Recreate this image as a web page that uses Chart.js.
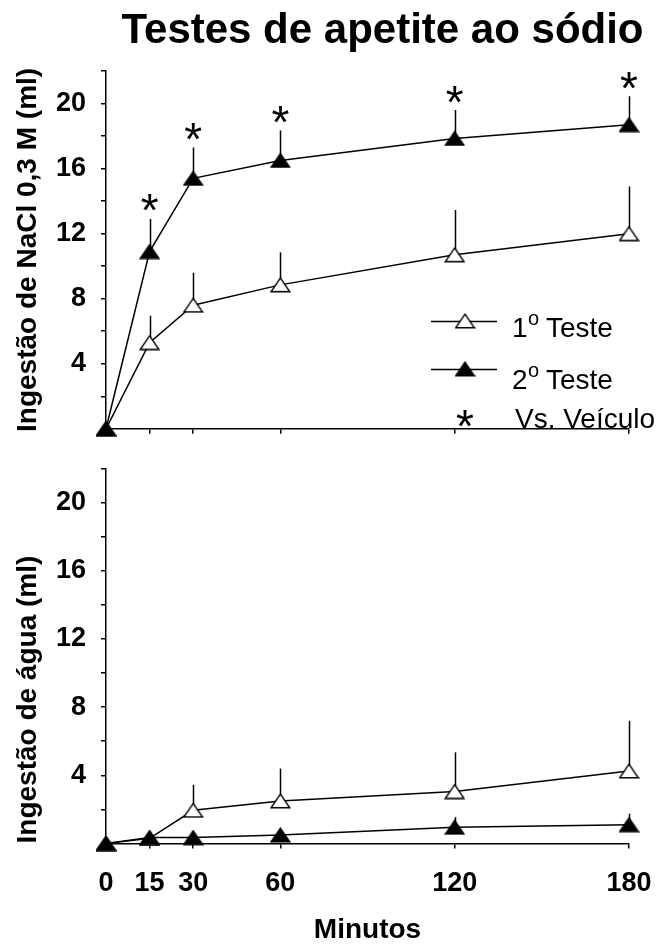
<!DOCTYPE html>
<html><head><meta charset="utf-8">
<script src="https://cdn.jsdelivr.net/npm/chart.js@4.4.0/dist/chart.umd.min.js"></script>
<style>
html,body{margin:0;padding:0;background:#fff;overflow:hidden;width:664px;height:944px}
canvas{position:absolute;left:0}
#c1{top:0}
#c2{top:430px}
</style></head><body>
<canvas id="c1" width="664" height="460" style="width:664px;height:460px"></canvas>
<canvas id="c2" width="664" height="514" style="width:664px;height:514px"></canvas>
<script>
// ---------- data ----------
const minutes = [0, 15, 30, 60, 120, 180];
const xTickLabels = ['0', '15', '30', '60', '120', '180'];
const yLabeledTicks = [4, 8, 12, 16, 20];
const titleText = 'Testes de apetite ao sódio';
const naclTitle = 'Ingestão de NaCl 0,3 M (ml)';
const aguaTitle = 'Ingestão de água (ml)';
const xTitle = 'Minutos';
const seriesNames = ['1', '2'];           // "1º Teste", "2º Teste"
const legendWord = 'Teste';
const signifLabel = 'Vs. Veículo';

const naclTeste1    = [0, 5.3, 7.6, 8.85, 10.7, 12.0];
const naclTeste1Err = [0, 1.65, 2.0, 2.0, 2.75, 2.9];
const naclTeste2    = [0, 10.9, 15.4, 16.5, 17.85, 18.7];
const naclTeste2Err = [0, 2.0, 1.9, 1.85, 1.75, 1.75];
const naclSignif    = [false, true, true, true, true, true];

const aguaTeste1    = [0, 0.3, 1.95, 2.5, 3.05, 4.25];
const aguaTeste1Err = [0, 0, 1.5, 1.9, 2.3, 2.95];
const aguaTeste2    = [0, 0.35, 0.35, 0.5, 0.95, 1.1];
const aguaTeste2Err = [0, 0, 0, 0.1, 0.6, 0.65];

// ---------- helpers ----------
const FONT = '"Liberation Sans", Arial, Helvetica, sans-serif';
Chart.defaults.font.family = FONT;
Chart.defaults.color = '#000';

function triImg(fill) {
  const c = document.createElement('canvas');
  c.width = 21; c.height = 16;
  const g = c.getContext('2d');
  g.beginPath();
  g.moveTo(10.5, 1.2); g.lineTo(19.8, 14.8); g.lineTo(1.2, 14.8); g.closePath();
  g.fillStyle = fill; g.fill();
  g.lineWidth = 1.4; g.strokeStyle = '#000'; g.lineJoin = 'miter'; g.stroke();
  return c;
}
const triOpen = triImg('#fff');
const triFill = triImg('#000');

function drawStar(ctx, cx, cy) {
  ctx.save();
  ctx.font = '46px ' + FONT;
  ctx.textAlign = 'center';
  ctx.textBaseline = 'alphabetic';
  ctx.fillStyle = '#000';
  const m = ctx.measureText('*');
  const asc = m.actualBoundingBoxAscent, desc = m.actualBoundingBoxDescent;
  ctx.fillText('*', cx, cy + (asc - desc) / 2);
  ctx.restore();
}

const toPts = (vals) => minutes.map((m, i) => ({x: m, y: vals[i]}));

function ds(label, vals, errs, img) {
  return {
    label, data: toPts(vals), errors: errs,
    borderColor: '#000', borderWidth: 1.5, tension: 0, fill: false, clip: false,
    pointStyle: img, pointRadius: 9, pointHoverRadius: 9,
    pointBackgroundColor: '#000', pointBorderColor: '#000'
  };
}

const errorBarPlugin = {
  id: 'errorBars',
  beforeDatasetsDraw(chart) {
    const {ctx, scales: {x, y}} = chart;
    ctx.save();
    ctx.strokeStyle = '#000'; ctx.lineWidth = 1.5;
    chart.data.datasets.forEach(d => {
      d.data.forEach((p, i) => {
        const e = d.errors[i];
        if (!e) return;
        const px = Math.round(x.getPixelForValue(p.x)) + 0.5;
        ctx.beginPath();
        ctx.moveTo(px, y.getPixelForValue(p.y));
        ctx.lineTo(px, y.getPixelForValue(p.y + e));
        ctx.stroke();
      });
    });
    ctx.restore();
  }
};

function makeChart(id, o) {
  return new Chart(document.getElementById(id), {
    type: 'line',
    data: {datasets: o.datasets},
    options: {
      responsive: false, animation: false, devicePixelRatio: 1,
      events: [],
      layout: {padding: o.padding},
      plugins: {legend: {display: false}, tooltip: {enabled: false}, title: {display: false}},
      scales: {
        x: {
          type: 'linear', min: 0, max: 180,
          afterBuildTicks: s => { s.ticks = minutes.map(v => ({value: v})); },
          afterFit: s => { s.height = o.xHeight; },
          ticks: {
            display: o.showX, autoSkip: false, maxRotation: 0, padding: 2,
            font: {size: 27, weight: 'bold', lineHeight: 67 / 27}, color: '#000',
            callback: v => { const k = minutes.indexOf(v); return k >= 0 ? xTickLabels[k] : ''; }
          },
          grid: {display: true, drawOnChartArea: false, drawTicks: true, tickLength: 5, color: '#000', lineWidth: 1.5},
          border: {display: true, color: '#000', width: 1.5},
          title: {display: o.showX, text: xTitle, font: {size: 28, weight: 'bold', lineHeight: 1}, padding: {top: 0, bottom: 0}, color: '#000'}
        },
        y: {
          type: 'linear', min: 0, max: 22,
          afterFit: s => { s.width = 106; },
          ticks: {
            stepSize: 2, autoSkip: false, padding: 15,
            font: {size: 27, weight: 'bold'}, color: '#000',
            callback: v => yLabeledTicks.includes(v) ? String(v) : ''
          },
          grid: {display: true, drawOnChartArea: false, drawTicks: true, tickLength: 5, color: '#000', lineWidth: 1.5},
          border: {display: true, color: '#000', width: 1.5},
          title: {display: true, text: o.yTitle, align: o.yAlign, font: {size: 28, weight: 'bold', lineHeight: 1}, padding: {top: 14, bottom: 0}, color: '#000'}
        }
      }
    },
    plugins: [errorBarPlugin].concat(o.plugins || [])
  });
}

// top chart extras: asterisks, legend, title
const topExtras = {
  id: 'topExtras',
  afterDatasetsDraw(chart) {
    const {ctx, scales: {x, y}} = chart;
    naclSignif.forEach((s, i) => {
      if (!s) return;
      const px = x.getPixelForValue(minutes[i]);
      const py = y.getPixelForValue(naclTeste2[i] + naclTeste2Err[i]) - 16;
      drawStar(ctx, px, py);
    });
  },
  afterDraw(chart) {
    const ctx = chart.ctx;
    ctx.save();
    // title
    ctx.fillStyle = '#000';
    ctx.font = 'bold 42px ' + FONT;
    ctx.textAlign = 'center'; ctx.textBaseline = 'alphabetic';
    ctx.fillText(titleText, 382.5, 43);
    // legend
    const rows = [
      {y: 321, img: triOpen, base: 337, supBase: 325, n: seriesNames[0]},
      {y: 369, img: triFill, base: 389, supBase: 377, n: seriesNames[1]}
    ];
    ctx.strokeStyle = '#000'; ctx.lineWidth = 1.5;
    rows.forEach(r => {
      ctx.beginPath(); ctx.moveTo(431, r.y + 0.5); ctx.lineTo(497, r.y + 0.5); ctx.stroke();
      ctx.drawImage(r.img, 465 - r.img.width / 2, r.y - r.img.height / 2);
      ctx.textAlign = 'left';
      ctx.font = '28px ' + FONT;
      ctx.fillText(r.n, 512, r.base);
      ctx.font = '20px ' + FONT;
      ctx.fillText('o', 528, r.supBase);
      ctx.font = '28px ' + FONT;
      ctx.fillText(legendWord, 546, r.base);
    });
    drawStar(ctx, 465, 418);
    ctx.font = '28px ' + FONT;
    ctx.textAlign = 'left';
    ctx.fillText(signifLabel, 515, 428);
    ctx.restore();
  }
};

makeChart('c1', {
  datasets: [ds('2º Teste', naclTeste2, naclTeste2Err, triFill), ds('1º Teste', naclTeste1, naclTeste1Err, triOpen)],
  padding: {left: 0, right: 35, top: 71, bottom: 4},
  xHeight: 10, showX: false, yTitle: naclTitle, yAlign: 'center',
  plugins: [topExtras]
});

makeChart('c2', {
  datasets: [ds('2º Teste', aguaTeste2, aguaTeste2Err, triFill), ds('1º Teste', aguaTeste1, aguaTeste1Err, triOpen)],
  padding: {left: 0, right: 35, top: 38.5, bottom: 0},
  xHeight: 100.5, showX: true, yTitle: aguaTitle, yAlign: 'start'
});
</script>
</body></html>
